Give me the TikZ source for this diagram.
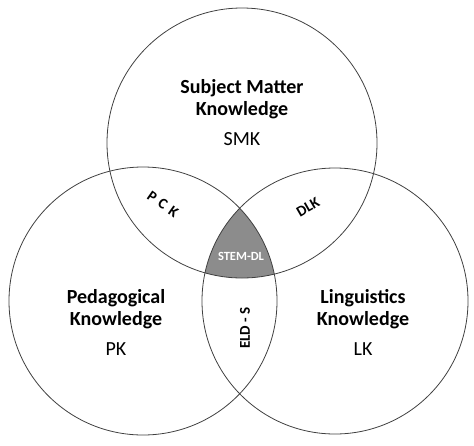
\documentclass[tikz,border=0pt]{standalone}
\usepackage{fontspec}
\setmainfont{Carlito}
\usetikzlibrary{positioning}
\definecolor{stemgray}{rgb}{0.55, 0.55, 0.55}
\definecolor{rimgray}{rgb}{0.25, 0.25, 0.25}

\begin{document}
\begin{tikzpicture}[x=1pt, y=-1pt]
                    \useasboundingbox (0,0) rectangle (474,445);
                    \coordinate (Csmk) at (242, 143);
                    \coordinate (Cpk) at (143, 301);
                    \coordinate (Clk) at (335, 301);

                    % shared core of the three sets
                    \begin{scope}
                        \clip (Csmk) circle [radius=135pt];
                        \clip (Cpk) circle [radius=134pt];
                        \fill[stemgray] (Clk) circle [radius=133pt];
                    \end{scope}

                    \draw[rimgray, line width=0.8pt] (Csmk) circle [radius=135pt];
                    \draw[rimgray, line width=0.8pt] (Cpk) circle [radius=134pt];
                    \draw[rimgray, line width=0.8pt] (Clk) circle [radius=133pt];

                    \node[align=center, font=\fontsize{20}{22}\selectfont\bfseries] (Smk) at (242, 99) {Subject Matter\\Knowledge};
                    \node[below = 7pt of Smk, font=\fontsize{20}{22}\selectfont] (SmkAb) {SMK};
                    \node[align=center, font=\fontsize{20}{22}\selectfont\bfseries] (Pk) at (116, 309) {Pedagogical\\Knowledge};
                    \node[below = 7pt of Pk, font=\fontsize{20}{22}\selectfont] (PkAb) {PK};
                    \node[align=center, font=\fontsize{20}{22}\selectfont\bfseries] (Lk) at (363, 309) {Linguistics\\Knowledge};
                    \node[below = 7pt of Lk, font=\fontsize{20}{22}\selectfont] (LkAb) {LK};

                    \node[rotate=-35, inner sep=1pt, font=\fontsize{15}{17}\selectfont\bfseries] (Pck) at (163, 204) {P\,\,C\,\,K};
                    \node[rotate=30, inner sep=1pt, font=\fontsize{15}{17}\selectfont\bfseries] (Dlk) at (308, 207) {DLK};
                    \node[rotate=90, inner sep=1pt, font=\fontsize{15}{17}\selectfont\bfseries] (Elds) at (245, 328) {ELD - S};
                    \node[text=white, inner sep=1pt, font=\fontsize{12.5}{14}\selectfont\bfseries] (Stem) at (241, 256) {STEM-DL};
            \end{tikzpicture}
\end{document}
